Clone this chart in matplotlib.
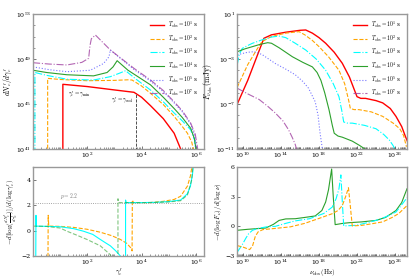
import numpy as np
import matplotlib
matplotlib.use("Agg")
import matplotlib.pyplot as plt
from matplotlib.ticker import LogLocator, NullFormatter, FixedLocator

plt.rcParams['mathtext.fontset'] = 'cm'
plt.rcParams['font.family'] = ['DejaVu Serif']

# ---------------- data (log10 values) ----------------
labels = [r'$T_{\rm obs}=10^{1}$ s', r'$T_{\rm obs}=10^{2}$ s', r'$T_{\rm obs}=10^{3}$ s',
          r'$T_{\rm obs}=10^{4}$ s', r'$T_{\rm obs}=10^{5}$ s', r'$T_{\rm obs}=10^{7}$ s']

# top-left: log gamma, log dN/dgamma
tl_red_x = [1.1, 1.1, 2.0, 3.0, 3.72, 4.0, 4.33, 4.8, 5.2, 5.44, 5.5]
tl_red_y = [40.5, 46.75, 46.55, 46.25, 46.04, 45.6, 44.85, 43.7, 42.4, 41.0, 40.5]
tl_org_x = [0.54, 0.54, 1.0, 2.0, 3.0, 3.5, 3.65, 4.0, 4.33, 4.8, 5.2, 5.5, 5.69, 5.85, 5.95]
tl_org_y = [40.5, 47.28, 47.18, 47.07, 47.1, 47.15, 47.13, 46.6, 45.95, 44.95, 43.9, 43.0, 42.4, 41.6, 40.5]
tl_cyn_x = [0.07, 0.07, 0.5, 1.25, 2.23, 2.85, 3.2, 3.41, 3.8, 4.33, 4.8, 5.2, 5.5, 5.81, 5.95, 6.02]
tl_cyn_y = [40.5, 47.8, 47.55, 47.2, 47.13, 47.43, 47.75, 47.96, 47.2, 46.24, 45.2, 44.2, 43.5, 42.7, 41.8, 40.5]
tl_grn_x = [0.0, 0.5, 1.25, 2.23, 2.73, 2.95, 3.1, 3.5, 4.33, 4.8, 5.2, 5.5, 5.81, 5.95, 6.03]
tl_grn_y = [48.0, 47.8, 47.6, 47.5, 47.8, 48.3, 48.85, 48.0, 46.7, 45.6, 44.6, 43.8, 42.84, 41.9, 40.5]
tl_blu_x = [0.0, 0.6, 1.25, 2.11, 2.6, 2.8, 2.85, 3.2, 3.72, 4.33, 4.8, 5.2, 5.5, 5.81, 5.96, 6.05]
tl_blu_y = [48.3, 48.05, 47.87, 48.0, 48.6, 49.2, 49.8, 49.1, 48.07, 47.03, 46.1, 45.1, 44.3, 43.2, 42.2, 40.5]
tl_pur_x = [0.0, 0.6, 1.25, 1.8, 2.05, 2.1, 2.15, 2.3, 2.85, 3.72, 4.33, 4.8, 5.2, 5.5, 5.81, 5.98, 6.1]
tl_pur_y = [48.67, 48.55, 48.47, 48.7, 49.06, 50.2, 50.8, 51.13, 49.8, 48.17, 47.13, 46.2, 45.2, 44.4, 43.3, 42.3, 40.5]
gamma_cool_x = [3.8, 3.8]
gamma_cool_y = [40.5, 45.95]

# top-right: log nu, log F
tr_red_x = [9.4, 10.5, 11.5, 12.2, 13.0, 14.5, 16.0, 16.6, 17.3, 18.0, 18.7, 19.6, 20.45, 21.2, 21.7,
            22.0, 22.4, 22.9, 24.0, 24.7, 25.5, 26.1, 26.7, 27.1, 27.3]
tr_red_y = [-7.0, -4.9, -2.7, -1.16, -0.85, -0.62, -0.45, -0.42, -0.7, -1.1, -1.6, -2.4, -3.38, -4.6, -5.7,
            -6.35, -6.5, -6.5, -6.7, -6.9, -7.4, -8.1, -9.0, -9.9, -10.3]
tr_org_x = [9.4, 10.5, 11.5, 12.0, 13.0, 14.5, 15.9, 16.5, 17.3, 18.0, 19.0, 20.1, 20.7, 21.1, 21.3,
            21.7, 22.2, 23.5, 24.7, 25.8, 26.5, 26.9, 27.2]
tr_org_y = [-5.5, -3.5, -2.1, -1.46, -1.0, -0.7, -0.57, -0.85, -1.35, -1.9, -2.8, -4.0, -5.2, -6.6, -7.4,
            -7.5, -7.5, -7.7, -8.1, -8.7, -9.2, -9.8, -10.8]
tr_cyn_x = [9.4, 9.6, 9.93, 10.5, 11.0, 12.0, 13.0, 13.8, 14.5, 15.5, 16.6, 17.7, 18.7, 19.5, 20.1,
            20.4, 20.6, 21.0, 21.5, 22.8, 24.0, 24.8, 25.4, 25.8, 26.1]
tr_cyn_y = [-3.5, -2.6, -2.05, -1.8, -1.6, -1.3, -1.05, -0.96, -1.1, -1.6, -2.2, -3.0, -4.0, -5.2, -6.35,
            -7.6, -8.6, -8.7, -8.7, -8.9, -9.2, -9.7, -10.2, -10.7, -11.2]
tr_grn_x = [9.4, 10.2, 11.0, 11.8, 12.6, 13.0, 13.8, 14.5, 15.2, 16.3, 17.3, 17.8, 18.2, 18.6, 19.05,
            19.4, 19.6, 20.0, 20.45, 21.5, 22.3, 23.0]
tr_grn_y = [-2.35, -2.1, -1.9, -1.7, -1.55, -1.6, -2.0, -2.4, -2.8, -3.3, -3.7, -4.2, -4.9, -6.0, -7.5,
            -8.9, -9.6, -9.85, -9.95, -10.3, -10.7, -11.1]
tr_blu_x = [9.4, 10.0, 10.5, 11.2, 12.0, 13.4, 14.5, 15.5, 16.3, 16.9, 17.6, 17.9, 18.1, 18.3, 18.4]
tr_blu_y = [-2.64, -2.5, -2.4, -2.35, -2.6, -3.4, -3.9, -4.4, -5.0, -5.6, -6.8, -8.0, -9.5, -10.7, -11.2]
tr_pur_x = [9.4, 10.5, 11.7, 12.6, 13.4, 14.2, 14.8, 15.2, 15.5, 15.7]
tr_pur_y = [-5.6, -6.1, -6.6, -7.2, -7.8, -8.5, -9.3, -10.0, -10.6, -11.2]

# bottom-left: log gamma, local slope
bl_cyn_x = [0.10, 0.11, 0.12, 0.5, 1.0, 1.5, 1.86, 2.2, 2.48, 2.7, 2.85, 3.05, 3.22, 3.3, 3.41, 3.41,
            3.43, 4.0, 4.5, 5.0, 5.44, 5.69, 5.8, 5.88, 5.92]
bl_cyn_y = [-3.0, 1.2, 0.35, 0.33, 0.3, 0.15, -0.05, -0.3, -0.7, -1.0, -1.2, -1.6, -2.0, -2.6, -2.6, 2.4,
            2.2, 2.2, 2.22, 2.28, 2.4, 2.9, 3.5, 4.5, 5.5]
bl_org_x = [0.55, 0.56, 0.58, 1.0, 1.5, 2.0, 2.48, 2.9, 3.22, 3.45, 3.6, 3.65, 3.66, 3.7, 4.3, 4.8,
            5.2, 5.44, 5.69, 5.8, 5.86]
bl_org_y = [-3.0, 1.2, 0.35, 0.33, 0.25, 0.1, -0.13, -0.4, -0.7, -1.0, -1.35, -1.6, 2.4, 2.2, 2.2, 2.3,
            2.45, 2.7, 3.5, 4.3, 5.1]
bl_grn_x = [0.0, 0.5, 1.0, 1.25, 1.6, 1.99, 2.48, 2.85, 2.95, 3.13, 3.13, 3.16, 4.0, 4.5, 5.0, 5.44,
            5.69, 5.85, 5.9]
bl_grn_y = [0.35, 0.33, 0.2, -0.05, -0.35, -0.7, -1.2, -1.9, -2.5, -2.5, 2.5, 2.2, 2.2, 2.21, 2.25,
            2.35, 2.8, 4.0, 5.2]
p_value = 2.2

# bottom-right: log nu, local slope
br_grn_x = [9.4, 10.5, 12.4, 13.2, 13.8, 14.5, 15.5, 16.5, 17.6, 18.3, 18.7, 19.0, 19.33, 19.5, 19.7,
            20.5, 21.2, 22.5, 24.0, 25.0, 26.1, 26.7, 27.26]
br_grn_y = [-0.4, -0.3, -0.17, 0.2, 0.6, 0.75, 0.77, 0.9, 1.05, 1.6, 2.46, 3.7, 5.8, 3.0, 0.17,
            0.3, 0.37, 0.45, 0.6, 0.9, 1.6, 2.4, 3.8]
br_cyn_x = [9.4, 9.9, 10.3, 10.6, 11.0, 11.6, 12.5, 13.4, 14.5, 15.5, 17.0, 18.5, 19.4, 19.8, 20.1,
            20.3, 20.45, 20.6, 21.9, 23.0, 24.0, 25.0, 26.1, 26.8, 27.26]
br_cyn_y = [-2.6, -1.9, -1.2, -0.74, -0.4, -0.2, -0.05, 0.0, 0.3, 0.55, 0.77, 1.3, 1.95, 2.8, 3.8,
            5.2, 2.5, 0.04, 0.1, 0.35, 0.6, 0.95, 1.45, 2.3, 2.9]
br_org_x = [9.4, 10.0, 10.7, 11.0, 11.3, 11.6, 12.1, 13.5, 15.0, 16.5, 18.0, 19.4, 20.0, 20.45, 20.8,
            21.1, 21.3, 21.5, 22.5, 23.5, 24.7, 25.7, 26.4, 27.26]
br_org_y = [-1.95, -2.1, -2.35, -2.0, -1.0, -0.55, -0.33, -0.2, -0.05, 0.3, 0.8, 1.28, 1.6, 2.1, 3.0,
            3.9, 2.0, 0.04, 0.1, 0.25, 0.45, 0.9, 1.3, 2.1]

# ---------------- styles ----------------
c_red, c_org, c_cyn, c_grn, c_blu, c_pur = 'red', 'orange', 'cyan', '#2ca02c', '#5555ff', '#a040a0'
spine_c = '#999999'

W, H = 419, 279
fig = plt.figure(figsize=(W / 100, H / 100), dpi=100)


def box(l, r, t, b):
    return [l / W, (H - b) / H, (r - l) / W, (b - t) / H]


def style(ax):
    for s in ax.spines.values():
        s.set_color(spine_c)
        s.set_linewidth(1.0)
    ax.tick_params(which='both', direction='in', labelsize=4.5, pad=1.5, colors='#444444',
                   labelcolor='black')
    ax.tick_params(which='major', length=2.5, width=0.5)
    ax.tick_params(which='minor', length=1.2, width=0.4)


ax1 = fig.add_axes(box(33, 204, 14, 149))
ax2 = fig.add_axes(box(237, 407, 14, 149))
ax3 = fig.add_axes(box(33, 204, 167, 256))
ax4 = fig.add_axes(box(237, 407, 167, 256))

P = lambda a: 10 ** np.asarray(a, dtype=float)
lw = 0.8

# top-left
ax1.plot(P(tl_red_x), P(tl_red_y), color=c_red, lw=1.0, ls='-', label=labels[0])
ax1.plot(P(tl_org_x), P(tl_org_y), color=c_org, lw=lw, ls='--', label=labels[1])
ax1.plot(P(tl_cyn_x), P(tl_cyn_y), color=c_cyn, lw=lw, ls='-.', label=labels[2])
ax1.plot(P(tl_grn_x), P(tl_grn_y), color=c_grn, lw=lw, ls='-', label=labels[3])
ax1.plot(P(tl_blu_x), P(tl_blu_y), color=c_blu, lw=lw, ls=':', alpha=0.8, label=labels[4])
ax1.plot(P(tl_pur_x), P(tl_pur_y), color=c_pur, lw=lw, ls='-.', alpha=0.8, label=labels[5])
ax1.plot(P(gamma_cool_x), P(gamma_cool_y), color='#333333', lw=0.6, ls='--')
ax1.text(10 ** 1.3, 10 ** 45.85, r"$\gamma_e' = \gamma_{\rm min}$", fontsize=4, ha='left', va='center')
ax1.text(10 ** 3.7, 10 ** 45.3, r"$\gamma_e' = \gamma_{\rm cool}$", fontsize=4, ha='right', va='center')
ax1.set_xscale('log'); ax1.set_yscale('log')
ax1.set_xlim(10 ** 0.0, 10 ** 6.3)
ax1.set_ylim(1e41, 1e53)
ax1.xaxis.set_major_locator(FixedLocator([1e2, 1e4, 1e6]))
ax1.yaxis.set_major_locator(FixedLocator([1e41, 1e45, 1e49, 1e53]))
ax1.set_ylabel(r"$dN_e'/d\gamma_e'$", fontsize=5.5, labelpad=1)
ax1.legend(loc='upper right', fontsize=4, frameon=False, handlelength=2.6, labelspacing=0.55,
           borderaxespad=0.6)

# top-right
ax2.plot(P(tr_red_x), P(tr_red_y), color=c_red, lw=1.0, ls='-', label=labels[0])
ax2.plot(P(tr_org_x), P(tr_org_y), color=c_org, lw=lw, ls='--', label=labels[1])
ax2.plot(P(tr_cyn_x), P(tr_cyn_y), color=c_cyn, lw=lw, ls='-.', label=labels[2])
ax2.plot(P(tr_grn_x), P(tr_grn_y), color=c_grn, lw=lw, ls='-', label=labels[3])
ax2.plot(P(tr_blu_x), P(tr_blu_y), color=c_blu, lw=lw, ls=':', alpha=0.8, label=labels[4])
ax2.plot(P(tr_pur_x), P(tr_pur_y), color=c_pur, lw=lw, ls='-.', alpha=0.8, label=labels[5])
ax2.set_xscale('log'); ax2.set_yscale('log')
ax2.set_xlim(10 ** 9.37, 10 ** 27.26)
ax2.set_ylim(1e-11, 1e1)
ax2.xaxis.set_major_locator(FixedLocator([1e10, 1e14, 1e18, 1e22, 1e26]))
ax2.yaxis.set_major_locator(FixedLocator([1e-11, 1e-7, 1e-3, 1e1]))
ax2.set_ylabel(r"$F_{\nu_{\rm obs}}\,({\rm mJy})$", fontsize=5.5, labelpad=1)
ax2.legend(loc='upper right', fontsize=4, frameon=False, handlelength=2.6, labelspacing=0.55,
           borderaxespad=0.6)

# bottom-left
ax3.axhline(p_value, color='#888888', lw=0.6, ls=':')
ax3.text(10 ** 1.0, p_value + 0.1, r'$p=2.2$', fontsize=4, color='#777777', ha='left', va='bottom')
ax3.plot(P(bl_org_x), bl_org_y, color=c_org, lw=lw, ls='--')
ax3.plot(P(bl_cyn_x), bl_cyn_y, color=c_cyn, lw=lw, ls='-')
ax3.plot(P(bl_grn_x), bl_grn_y, color=c_grn, lw=lw, ls='--', alpha=0.6)
ax3.set_xscale('log')
ax3.set_xlim(10 ** 0.0, 10 ** 6.3)
ax3.set_ylim(-2, 5)
ax3.xaxis.set_major_locator(FixedLocator([1e2, 1e4, 1e6]))
ax3.set_yticks([-2, 0, 2, 4])
ax3.set_xlabel(r"$\gamma_e'$", fontsize=5, labelpad=0)
ax3.set_ylabel(r"$-d[\log(\frac{dN_e'}{d\gamma_e'})]/d(\log\gamma_e')$", fontsize=5, labelpad=1)

# bottom-right
ax4.plot(P(br_grn_x), br_grn_y, color=c_grn, lw=lw, ls='-')
ax4.plot(P(br_cyn_x), br_cyn_y, color=c_cyn, lw=lw, ls='-.')
ax4.plot(P(br_org_x), br_org_y, color=c_org, lw=lw, ls='--')
ax4.set_xscale('log')
ax4.set_xlim(10 ** 9.37, 10 ** 27.26)
ax4.set_ylim(-3, 6)
ax4.xaxis.set_major_locator(FixedLocator([1e10, 1e14, 1e18, 1e22, 1e26]))
ax4.set_yticks([-3, 0, 3, 6])
ax4.set_xlabel(r"$\nu_{\rm obs}\,({\rm Hz})$", fontsize=5, labelpad=0)
ax4.set_ylabel(r"$-d(\log F_\nu)/d(\log\nu)$", fontsize=5, labelpad=1)

for ax in (ax1, ax2, ax3, ax4):
    ax.xaxis.set_minor_locator(LogLocator(base=10, subs=np.arange(1, 10), numticks=100))
    ax.xaxis.set_minor_formatter(NullFormatter())
    style(ax)
for ax in (ax1, ax2):
    ax.yaxis.set_minor_locator(LogLocator(base=10, subs=[1.0], numticks=100))
    ax.yaxis.set_minor_formatter(NullFormatter())
for ax in (ax3, ax4):
    ax.tick_params(axis='x', which='both', pad=1)

fig.savefig('out.png', dpi=100)
